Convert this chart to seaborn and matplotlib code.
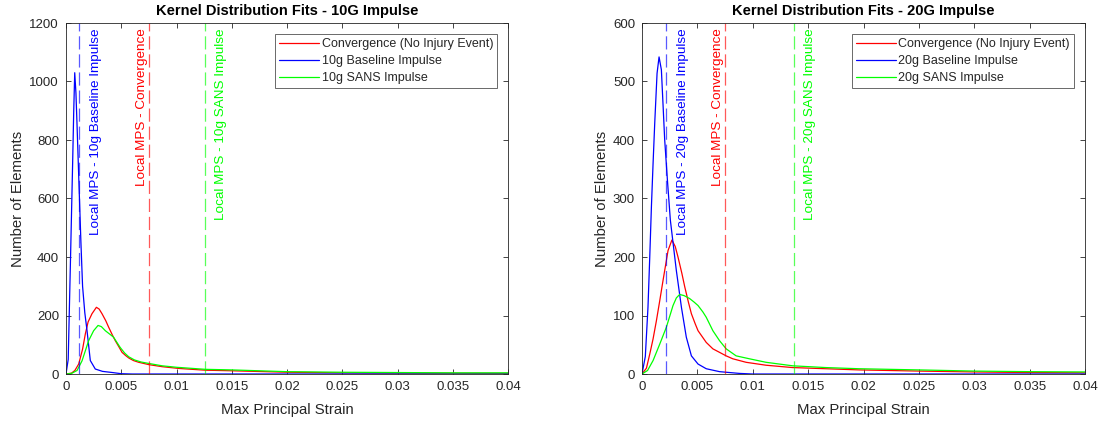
import matplotlib
matplotlib.use("Agg")
import matplotlib.pyplot as plt
import matplotlib.transforms as mtransforms
import seaborn as sns
import pandas as pd

# ---------------- data: 10G impulse ----------------
x_conv_10 = [0, 0.0005, 0.0008, 0.00115, 0.0015, 0.00175, 0.002, 0.00235, 0.00275, 0.003, 0.00326,
             0.0036, 0.00386, 0.0042, 0.00446, 0.0048, 0.00507, 0.0054, 0.00567, 0.0061, 0.00658,
             0.0075, 0.0087, 0.0102, 0.0126, 0.015, 0.02, 0.025, 0.03, 0.035, 0.04]
y_conv_10 = [0, 3, 12, 34, 85, 137, 178, 206, 228, 222, 206, 182, 160, 133, 114, 92, 74, 63, 55,
             46, 40, 32, 25, 19, 13, 11, 6, 4, 3, 2.5, 2]

x_base_10 = [0, 0.0002, 0.0004, 0.0006, 0.0007, 0.00079, 0.0009, 0.001, 0.0012, 0.00135, 0.0015,
             0.0017, 0.0019, 0.0022, 0.00265, 0.0033, 0.0042, 0.005, 0.006, 0.04]
y_base_10 = [0, 50, 380, 720, 900, 1030, 960, 850, 620, 450, 300, 210, 149, 46, 17, 9, 5, 1, 0, 0]

x_sans_10 = [0, 0.0005, 0.001, 0.00145, 0.0018, 0.00205, 0.0025, 0.0029, 0.0032, 0.00356, 0.004,
             0.0043, 0.0049, 0.0053, 0.00567, 0.0062, 0.0068, 0.0075, 0.0087, 0.01, 0.0126, 0.015,
             0.02, 0.025, 0.03, 0.035, 0.04]
y_sans_10 = [0, 2, 12, 45, 85, 114, 148, 166, 162, 148, 135, 126, 91, 72, 59, 48, 41, 36, 28, 23,
             16, 14, 8, 6, 5, 4, 4]

mps_10 = {"base": 0.0012, "conv": 0.0075, "sans": 0.0126}

# ---------------- data: 20G impulse ----------------
x_conv_20 = [0, 0.0004, 0.0007, 0.001, 0.0013, 0.0016, 0.0019, 0.00235, 0.0027, 0.003, 0.00325,
             0.0036, 0.00386, 0.0042, 0.00446, 0.0048, 0.00506, 0.0058, 0.0064, 0.007, 0.0076,
             0.0082, 0.0094, 0.0112, 0.0136, 0.0166, 0.0196, 0.025, 0.03, 0.035, 0.04]
y_conv_20 = [0, 10, 34, 60, 91, 125, 160, 211, 229, 218, 200, 172, 149, 122, 103, 86, 74, 54, 43,
             37, 31, 26, 20, 15, 11, 9, 7, 5, 3.5, 2.5, 2]

x_base_20 = [0, 0.0003, 0.00054, 0.0007, 0.00085, 0.001, 0.00115, 0.00136, 0.00154, 0.00175,
             0.0019, 0.00205, 0.0023, 0.00256, 0.0031, 0.00356, 0.004, 0.00446, 0.00506, 0.0058,
             0.007, 0.0076, 0.0088, 0.01, 0.04]
y_base_20 = [0, 30, 114, 200, 286, 360, 429, 514, 542, 520, 460, 400, 330, 263, 177, 114, 63, 31,
             17, 9, 4, 3, 1, 0, 0]

x_sans_20 = [0, 0.0005, 0.001, 0.0016, 0.0022, 0.0028, 0.0031, 0.0034, 0.0038, 0.0043, 0.0047,
             0.00506, 0.0055, 0.0058, 0.0064, 0.007, 0.0076, 0.0085, 0.0097, 0.0112, 0.0136,
             0.0166, 0.0196, 0.025, 0.03, 0.035, 0.04]
y_sans_20 = [0, 6, 23, 51, 80, 117, 130, 136, 134, 129, 123, 117, 106, 97, 74, 57, 43, 31, 26, 20,
             14, 11, 9, 7, 5, 4, 3.5]

mps_20 = {"base": 0.0022, "conv": 0.0075, "sans": 0.0137}

x_ticks = [0, 0.005, 0.01, 0.015, 0.02, 0.025, 0.03, 0.035, 0.04]
x_tick_labels = ["0", "0.005", "0.01", "0.015", "0.02", "0.025", "0.03", "0.035", "0.04"]
y_ticks_10 = [0, 200, 400, 600, 800, 1000, 1200]
y_ticks_20 = [0, 100, 200, 300, 400, 500, 600]

# ---------------- style ----------------
sns.set_theme(style="white")
plt.rcParams["font.family"] = ["Liberation Sans", "DejaVu Sans"]
plt.rcParams["lines.scale_dashes"] = False

DARK = (0.15, 0.15, 0.15)
RED, BLUE, GREEN = (1, 0, 0), (0, 0, 1), (0, 1, 0)

fig = plt.figure(figsize=(11.05, 4.23), dpi=100)
ax1 = fig.add_axes([66 / 1105, 1 - 374 / 423, 442 / 1105, 351 / 423])
ax2 = fig.add_axes([642 / 1105, 1 - 374 / 423, 443 / 1105, 351 / 423])


def panel(ax, g, xc, yc, xb, yb, xs, ys, mps, yticks, ymax):
    sns.lineplot(x=xc, y=yc, ax=ax, color=RED, lw=0.9, label="Convergence (No Injury Event)",
                 estimator=None, sort=False)
    sns.lineplot(x=xb, y=yb, ax=ax, color=BLUE, lw=0.9, label=f"{g}g Baseline Impulse",
                 estimator=None, sort=False)
    sns.lineplot(x=xs, y=ys, ax=ax, color=GREEN, lw=0.9, label=f"{g}g SANS Impulse",
                 estimator=None, sort=False)

    specs = [("base", BLUE, f"Local MPS - {g}g Baseline Impulse", "left", 7.5),
             ("conv", RED, "Local MPS - Convergence", "right", -0.8),
             ("sans", GREEN, f"Local MPS - {g}g SANS Impulse", "left", 7.2)]
    for key, col, txt, ha, dx in specs:
        ax.axvline(mps[key], color=col, lw=0.9, alpha=0.65, dashes=(9.5, 3.5))
        tr = mtransforms.offset_copy(ax.get_xaxis_transform(), fig=fig, x=dx, y=-4, units="points")
        ax.text(mps[key], 1.0, txt, transform=tr, rotation=90, color=col, fontsize=9.7,
                ha=ha, va="top")

    ax.set_xlim(0, 0.04)
    ax.set_ylim(0, ymax)
    ax.set_xticks(x_ticks)
    ax.set_xticklabels(x_tick_labels)
    ax.set_yticks(yticks)
    ax.set_yticklabels([str(v) for v in yticks])
    ax.tick_params(direction="in", top=True, right=True, bottom=True, left=True, length=3.5,
                   width=0.6, color=DARK, labelcolor=DARK, labelsize=9.5, pad=5)
    for sp in ax.spines.values():
        sp.set_color(DARK)
        sp.set_linewidth(0.6)
        sp.set_visible(True)
    ax.set_xlabel("Max Principal Strain", fontsize=10.7, color=DARK, labelpad=7)
    ax.set_ylabel("Number of Elements", fontsize=10.7, color=DARK, labelpad=3)
    ax.set_title(f"Kernel Distribution Fits - {g}G Impulse", fontsize=10.5, fontweight="bold",
                 color="black", pad=6)
    leg = ax.legend(loc="upper right", fontsize=9, frameon=True, fancybox=False,
                    borderaxespad=0.9, handlelength=3.2, handletextpad=0.2, labelspacing=0.4,
                    borderpad=0.3, edgecolor=DARK)
    leg.get_frame().set_linewidth(0.6)
    for line in leg.get_lines():
        line.set_linewidth(0.9)
    ax.grid(False)


panel(ax1, 10, x_conv_10, y_conv_10, x_base_10, y_base_10, x_sans_10, y_sans_10, mps_10,
      y_ticks_10, 1200)
panel(ax2, 20, x_conv_20, y_conv_20, x_base_20, y_base_20, x_sans_20, y_sans_20, mps_20,
      y_ticks_20, 600)

fig.savefig("out.png", dpi=100, facecolor="white")
